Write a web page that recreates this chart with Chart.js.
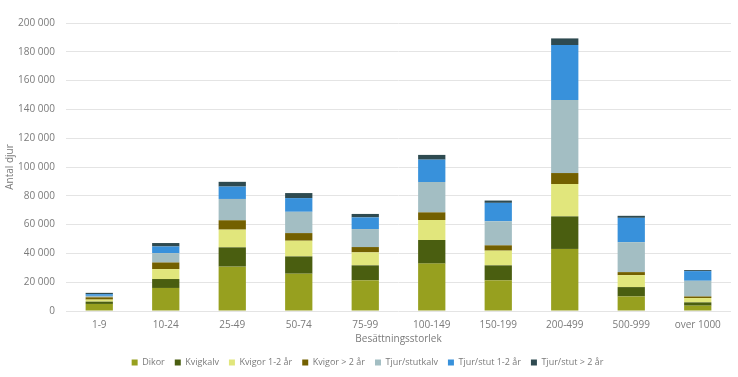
<!DOCTYPE html>
<html>
<head>
<meta charset="utf-8">
<script src="https://cdn.jsdelivr.net/npm/chart.js@4"></script>
<style>
    html, body { margin: 0; padding: 0; background: #fff; }
    #wrap { width: 738px; height: 377px; }
</style>
</head>
<body>
<div id="wrap"><canvas id="animals" width="738" height="377"></canvas></div>
<script>
//herd size classes
const herdSizes = ['1-9', '10-24', '25-49', '50-74', '75-99', '100-149', '150-199', '200-499', '500-999', 'over 1000'];

//animals per category
const dikor = [4900, 16000, 30800, 25900, 21300, 32900, 21300, 43100, 10100, 3700];
const kvigkalv = [1600, 6200, 13400, 12000, 10400, 16400, 10400, 22600, 6500, 2300];
const kvigor12 = [1400, 6900, 12300, 10900, 9000, 13900, 10200, 22500, 8300, 3000];
const kvigorOver2 = [1600, 4600, 6500, 5300, 3700, 5300, 3700, 7600, 2100, 1100];
const tjurKalv = [1000, 6500, 14800, 14800, 12500, 21100, 16700, 50700, 20800, 10900];
const tjur12 = [1200, 4600, 8600, 9500, 8100, 15500, 12800, 38200, 16900, 6700];
const tjurOver2 = [900, 2400, 3300, 3500, 2400, 3300, 1600, 4600, 1400, 700];

const xTitle = "Besättningsstorlek";
const fontFamily = "'Open Sans', sans-serif";
const textColor = "#7a7a7a";

//format numbers with space as thousand separator
const formatNumber = (value) => {
    return value.toString().replace(/\B(?=(\d{3})+(?!\d))/g, " ");
};

const makeSet = (label, data, color) => {
    return {
        label: label,
        data: data,
        backgroundColor: color,
        borderWidth: 0,
        barPercentage: 0.82,
        categoryPercentage: 0.5,
    };
};

//draw the x axis title under the tick labels
const xTitlePlugin = {
    id: "xTitle",
    afterDraw: (c) => {
        const sx = c.scales.x;
        const g = c.ctx;
        g.save();
        g.font = "10px " + fontFamily;
        g.fillStyle = textColor;
        g.textAlign = "center";
        g.textBaseline = "middle";
        g.fillText(xTitle, (sx.left + sx.right) / 2, sx.bottom - 8.5);
        g.restore();
    },
};

const ctx = document.getElementById("animals").getContext("2d");

const chart = new Chart(ctx, {
    type: "bar",
    data: {
        labels: herdSizes,
        datasets: [
            makeSet("Dikor", dikor, "#97a01f"),
            makeSet("Kvigkalv", kvigkalv, "#4a5e10"),
            makeSet("Kvigor 1-2 år", kvigor12, "#e1e67c"),
            makeSet("Kvigor > 2 år", kvigorOver2, "#736000"),
            makeSet("Tjur/stutkalv", tjurKalv, "#a3bec3"),
            makeSet("Tjur/stut 1-2 år", tjur12, "#3891db"),
            makeSet("Tjur/stut > 2 år", tjurOver2, "#2e4a50"),
        ],
    },
    plugins: [xTitlePlugin],
    options: {
        responsive: false,
        animation: false,
        layout: {
            padding: { left: 4, right: 7, top: 23, bottom: 0 },
        },
        plugins: {
            legend: {
                position: "bottom",
                labels: {
                    boxWidth: 6,
                    boxHeight: 6,
                    padding: 10,
                    color: textColor,
                    font: { family: fontFamily, size: 9 },
                },
            },
            tooltip: { enabled: false },
        },
        scales: {
            x: {
                stacked: true,
                grid: { display: false },
                border: { display: false },
                ticks: {
                    color: textColor,
                    font: { family: fontFamily, size: 10 },
                    padding: 0,
                },
                //keeps the room for the title, the plugin draws the text
                title: {
                    display: true,
                    text: xTitle,
                    color: "rgba(0,0,0,0)",
                    font: { family: fontFamily, size: 10, lineHeight: 1.7 },
                    padding: { top: 0, bottom: 0 },
                },
            },
            y: {
                stacked: true,
                min: 0,
                max: 200000,
                grid: { color: "#e4e4e4", drawTicks: false },
                border: { display: false },
                afterFit: (scale) => {
                    scale.width = 62;
                },
                ticks: {
                    stepSize: 20000,
                    color: textColor,
                    padding: 11,
                    font: { family: fontFamily, size: 10 },
                    callback: (value) => formatNumber(value),
                },
                title: {
                    display: true,
                    text: "Antal djur",
                    color: textColor,
                    font: { family: fontFamily, size: 10 },
                    padding: { top: 0, bottom: 0 },
                },
            },
        },
    },
});
</script>
</body>
</html>
